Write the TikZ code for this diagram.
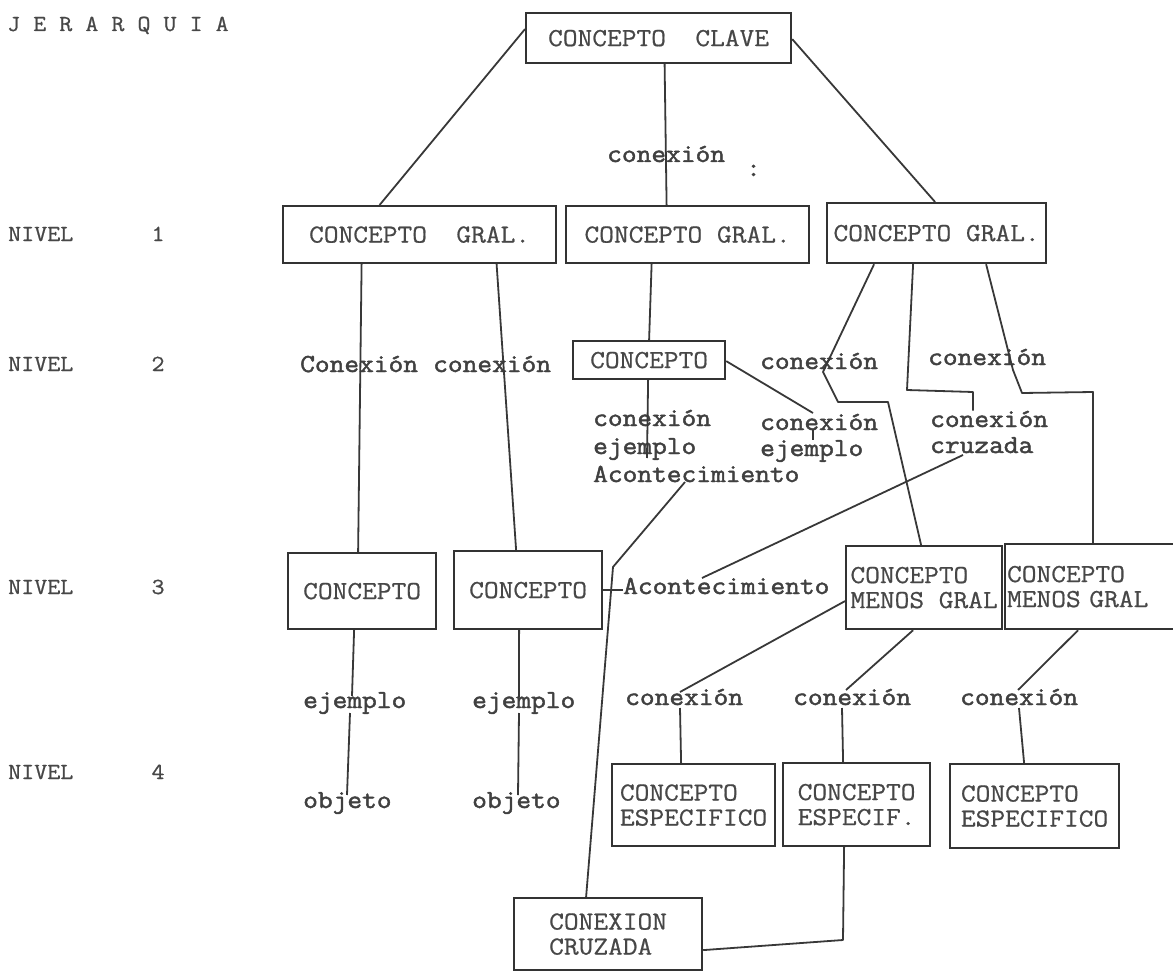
\documentclass[tikz,border=0pt]{standalone}
\usepackage{fontspec}
\newfontfamily\tw{Latin Modern Mono}[FakeStretch=1.1,FakeBold=0.7]
\newfontfamily\twb{Latin Modern Mono}[FakeStretch=1.1,FakeBold=1.8]
\begin{document}
\begin{tikzpicture}[x=1pt,y=-1pt,
  box/.style={draw=black!80, line width=2.2pt, inner sep=0pt, anchor=north west,
    font=\tw\fontsize{26}{25}\selectfont, text=black!72, align=left},
  lbl/.style={anchor=base west, inner sep=0pt,
    font=\twb\fontsize{26}{25}\selectfont, text=black!75},
  side/.style={anchor=base west, inner sep=0pt,
    font=\tw\fontsize{23}{23}\selectfont, text=black!72},
  ln/.style={draw=black!78, line width=1.8pt, line join=round}]
\useasboundingbox (0,0) rectangle (1173,971);

% left column
\node[side] (tit) at (7,31) {J~E~R~A~R~Q~U~I~A};
\node[side] (n1) at (8,241) {NIVEL~~~~~~1};
\node[side] (n2) at (8,371) {NIVEL~~~~~~2};
\node[side] (n3) at (8,594) {NIVEL~~~~~~3};
\node[side] (n4) at (8,779) {NIVEL~~~~~~4};

% boxes
\node[box, minimum width=265pt, minimum height=50pt] (clave) at (525,12) {CONCEPTO~~CLAVE};
\node[box, minimum width=273pt, minimum height=57pt] (A) at (282,205) {CONCEPTO~~GRAL.};
\node[box, minimum width=243pt, minimum height=57pt] (B) at (565,205) {CONCEPTO GRAL.};
\node[box, minimum width=219pt, minimum height=60pt] (C) at (826,202) {CONCEPTO GRAL.};
\node[box, minimum width=152pt, minimum height=38pt] (F) at (572,340) {CONCEPTO};
\node[box, minimum width=148pt, minimum height=76pt] (D) at (287,552) {CONCEPTO};
\node[box, minimum width=148pt, minimum height=78pt] (E) at (453,550) {CONCEPTO};
\node[box, minimum width=156pt, minimum height=83pt] (G) at (845,545) {CONCEPTO\\MENOS GRAL};
\node[box, text width=180pt, inner xsep=2pt, minimum height=85pt] (H) at (1004,543) {CONCEPTO\\MENOS GRAL};
\node[box, minimum width=163pt, minimum height=82pt] (B1) at (611,763) {CONCEPTO\\ESPECIFICO};
\node[box, minimum width=147pt, minimum height=83pt] (B2) at (782,762) {CONCEPTO\\ESPECIF.};
\node[box, minimum width=169pt, minimum height=84pt] (B3) at (949,763) {CONCEPTO\\ESPECIFICO};
\node[box, minimum width=188pt, minimum height=72pt] (CX) at (513,897) {CONEXION\\CRUZADA};

% labels
\node[lbl] (lc0) at (607,162) {conexión};
\node[lbl] (dots) at (746,176) {:};
\node[lbl] (l2a) at (300,372) {Conexión};
\node[lbl] (l2b) at (433,372) {conexión};
\node[lbl] (l2c) at (760,369) {conexión};
\node[lbl] (l2d) at (928,365) {conexión};
\node[lbl] (fc) at (593,426) {conexión};
\node[lbl] (fe) at (593,454) {ejemplo};
\node[lbl] (fa) at (593,482) {Acontecimiento};
\node[lbl] (rc) at (760,430) {conexión};
\node[lbl] (re) at (760,456) {ejemplo};
\node[lbl] (cc) at (930,427) {conexión};
\node[lbl] (cz) at (930,453) {cruzada};
\node[lbl] (ac3) at (623,594) {Acontecimiento};
\node[lbl] (ej1) at (303,708) {ejemplo};
\node[lbl] (ej2) at (472,708) {ejemplo};
\node[lbl] (ob1) at (303,808) {objeto};
\node[lbl] (ob2) at (472,808) {objeto};
\node[lbl] (k1) at (625,705) {conexión};
\node[lbl] (k2) at (793,705) {conexión};
\node[lbl] (k3) at (960,705) {conexión};

% coordinates
\coordinate (p1) at (647,458);
\coordinate (p2) at (813,413);
\coordinate (c1a) at (823,372);
\coordinate (c1b) at (838,402);
\coordinate (c1c) at (888,402);
\coordinate (c2a) at (907,390);
\coordinate (c2b) at (973,392);
\coordinate (c3a) at (1013,370);
\coordinate (c3b) at (1022,393);
\coordinate (c3c) at (1093,392);
\coordinate (x1) at (963,455);
\coordinate (x2) at (702,578);
\coordinate (a1) at (685,482);
\coordinate (a2) at (613,567);
\coordinate (d1) at (352,696);
\coordinate (d2) at (350,713);
\coordinate (d3) at (347,795);
\coordinate (e1) at (519,697);
\coordinate (e2) at (519,713);
\coordinate (e3) at (518,795);
\coordinate (g1) at (680,692);
\coordinate (g2) at (680,708);
\coordinate (g3) at (846,690);
\coordinate (g4) at (842,708);
\coordinate (h1) at (1018,690);
\coordinate (h2) at (1019,708);
\coordinate (q1) at (843,940);

% connectors
\draw[ln] ([yshift=9pt]clave.west) -- ([xshift=-40pt]A.north);
\draw[ln] ([xshift=6pt]clave.south) -- ([xshift=-21pt]B.north);
\draw[ln] ([yshift=-1pt]clave.east) -- ([xshift=-1.5pt]C.north);
\draw[ln] ([xshift=-58pt]A.south) -- ([xshift=-4pt]D.north);
\draw[ln] ([xshift=77pt]A.south) -- ([xshift=-12pt]E.north);
\draw[ln] ([xshift=-36pt]B.south) -- (F.north);
\draw[ln] ([xshift=-1pt]F.south) -- (p1);
\draw[ln] ([yshift=-1pt]F.east) -- (p2);
\draw[ln] (rc.south -| p2) -- (re.north -| p2);
\draw[ln] ([xshift=-62.5pt]C.south) -- (c1a) -- (c1b) -- (c1c) -- ([xshift=-3pt]G.north);
\draw[ln] ([xshift=-23.5pt]C.south) -- (c2a) -- (c2b) -- (c2b |- cc.north);
\draw[ln] ([xshift=49.5pt]C.south) -- (c3a) -- (c3b) -- (c3c) -- (c3c |- H.north);
\draw[ln] (x1) -- (x2);
\draw[ln] (a1) -- (a2) -- ([xshift=-22pt]CX.north);
\draw[ln] (E.east) -- (E.east -| ac3.west);
\draw[ln] ([xshift=-8pt]D.south) -- (d1);
\draw[ln] (d2) -- (d3);
\draw[ln] ([xshift=-9pt]E.south) -- (e1);
\draw[ln] (e2) -- (e3);
\draw[ln] ([yshift=-13.5pt]G.west) -- (g1);
\draw[ln] (g2) -- ([xshift=-12.5pt]B1.north);
\draw[ln] ([xshift=-11pt]G.south) -- (g3);
\draw[ln] (g4) -- ([xshift=-13.5pt]B2.north);
\draw[ln] ([xshift=-19pt]H.south) -- (h1);
\draw[ln] (h2) -- ([xshift=-10.5pt]B3.north);
\draw[ln] ([xshift=-12.5pt]B2.south) -- (q1) -- ([yshift=-16pt]CX.east);
\end{tikzpicture}
\end{document}
